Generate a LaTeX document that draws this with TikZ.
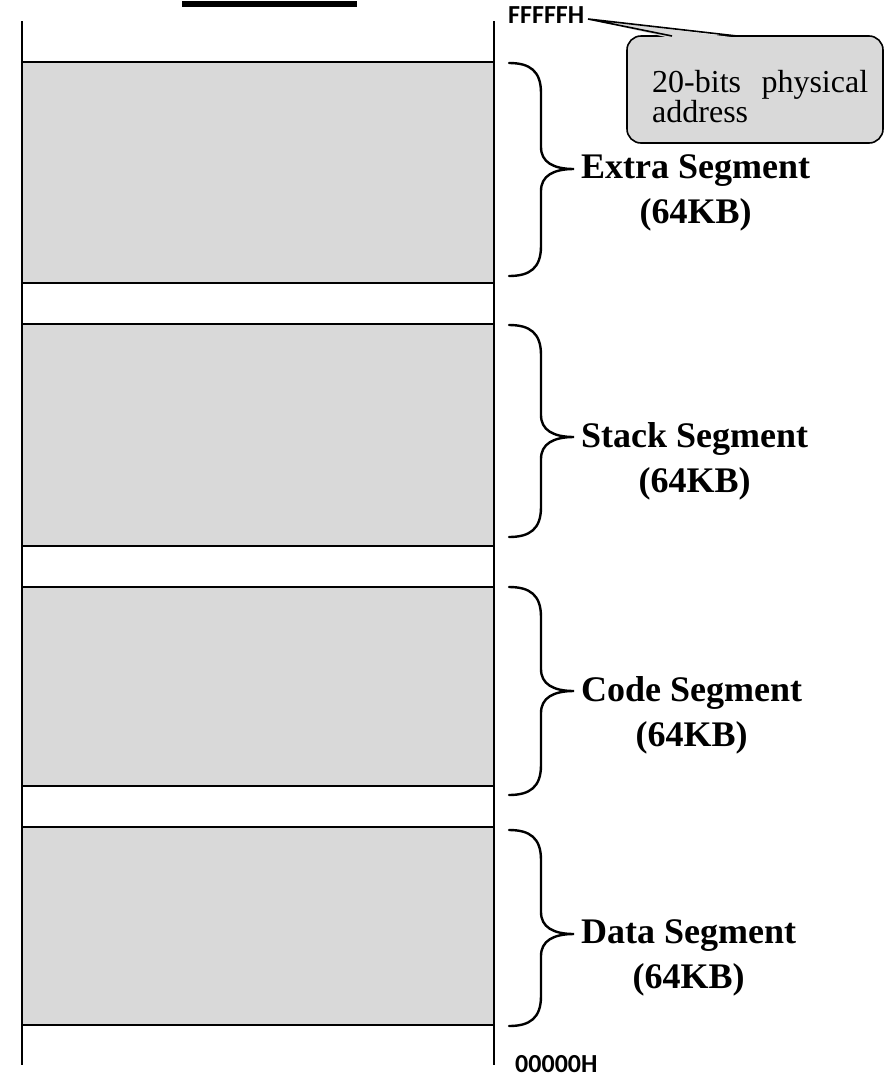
\documentclass[tikz,border=0pt]{standalone}
\usepackage{fontspec}
\setmainfont{Liberation Serif}
\newfontfamily\addrfont{Carlito}
\definecolor{seggray}{HTML}{D9D9D9}
\tikzset{
  membar/.style={line width=2.4pt, line cap=butt},
  segbox/.style={fill=seggray, draw=black, line width=2.2pt},
  bracepath/.style={draw=black, line width=2.4pt, line cap=round},
  seglabel/.style={font={\bfseries\fontsize{36}{45}\selectfont}, align=center, inner sep=0pt, anchor=north west},
  addr/.style={font={\addrfont\bfseries\fontsize{26}{28}\selectfont}, inner sep=0pt, anchor=base west},
  callout/.style={fill=seggray, draw=black, line width=1.6pt}
}
% curly brace from y=#1 to y=#2 with its tip at y=#3
\newcommand\segbrace[3]{%
  \draw[bracepath] (509,#1) .. controls (530,#1) and (541,#1+8) .. (541,#1+30)
    -- (541,#3-22) .. controls (541,#3-7) and (553,#3) .. (574,#3)
    .. controls (553,#3) and (541,#3+7) .. (541,#3+22)
    -- (541,#2-30) .. controls (541,#2-8) and (530,#2) .. (509,#2);}
\begin{document}
\begin{tikzpicture}[x=1pt, y=-1pt]
\useasboundingbox (0,0) rectangle (885,1077);

% heading rule at the top edge
\fill (182,1) rectangle (357,7);

% memory segments
\draw[segbox] (22,62) rectangle (494,283);
\draw[segbox] (22,324) rectangle (494,546);
\draw[segbox] (22,587) rectangle (494,786);
\draw[segbox] (22,827) rectangle (494,1025);

% address space boundaries
\draw[membar] (22,21) -- (22,1065);
\draw[membar] (494,21) -- (494,1065);

% braces and segment names
\segbrace{63}{276}{169}
\segbrace{325}{537}{437}
\segbrace{587}{795}{691}
\segbrace{830}{1026}{934}

\coordinate (tipES) at (574,169);
\coordinate (tipSS) at (574,437);
\coordinate (tipCS) at (574,691);
\coordinate (tipDS) at (574,934);
\node[seglabel] (es) at (581,154) {Extra Segment\\(64KB)};
\node[seglabel] (ss) at (581,422) {Stack Segment\\(64KB)};
\node[seglabel] (cs) at (581,676) {Code Segment\\(64KB)};
\node[seglabel] (ds) at (581,919) {Data Segment\\(64KB)};

% address labels
\node[addr] (top) at (508,23) {FFFFFH};
\node[addr] (bottom) at (515,1072) {00000H};

% callout box with pointer to the top address
\draw[callout, rounded corners=14pt] (627,36) rectangle (883,143);
\coordinate (ptip) at (588,19);
\fill[seggray] (ptip) -- (670,38) -- (739,38) -- cycle;
\draw[callout, fill=none, line join=miter] (672,36) -- (ptip) -- (737,36);
\node[inner sep=0pt, anchor=north west, text width=216pt, align=justify,
      font={\fontsize{32}{29}\selectfont}] (note) at (652,70)
  {\hyphenpenalty=10000 20-bits physical address};
\end{tikzpicture}
\end{document}
